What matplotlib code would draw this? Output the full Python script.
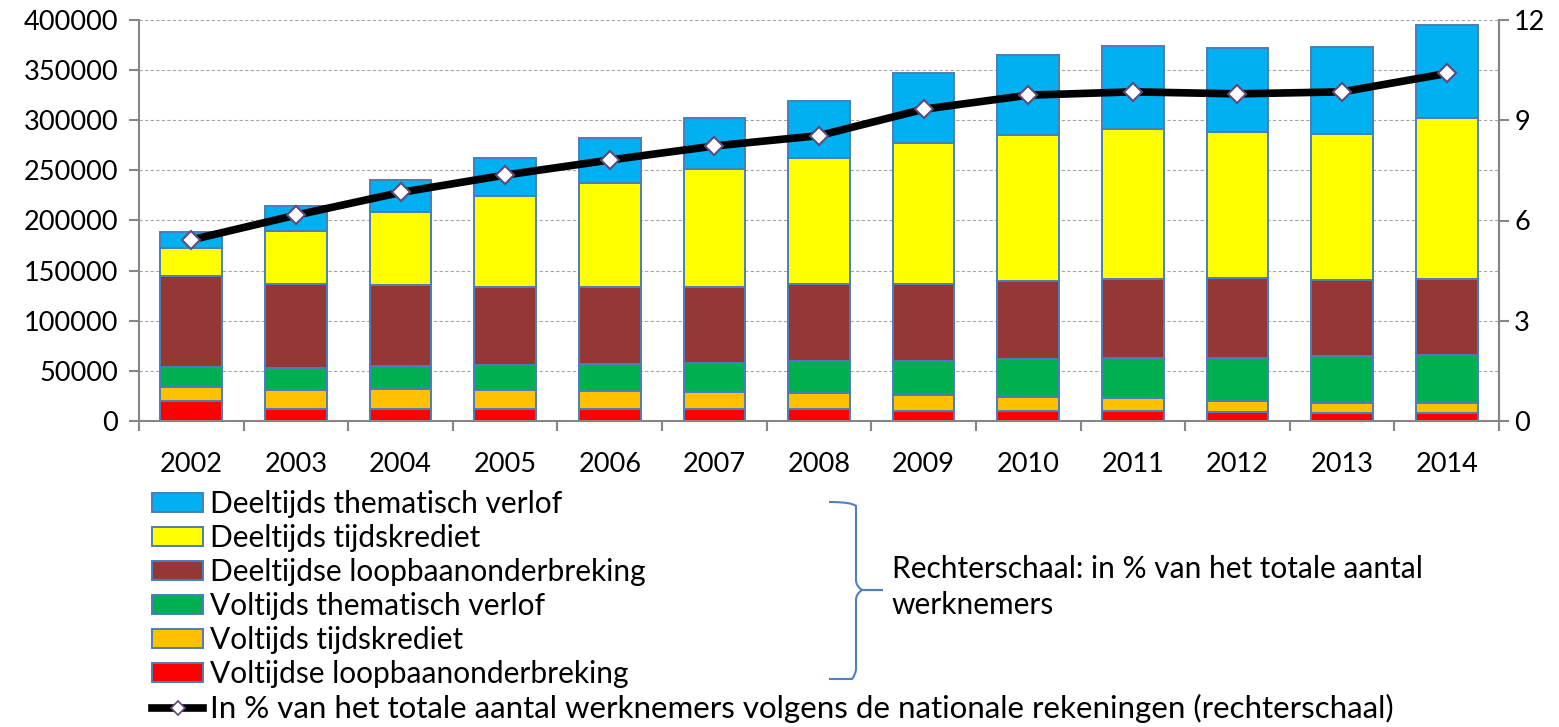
import numpy as np
import matplotlib.pyplot as plt
from matplotlib.patches import Patch, PathPatch
from matplotlib.lines import Line2D
from matplotlib.path import Path

plt.rcParams['font.family'] = ['Lato', 'DejaVu Sans']

years = ["2002", "2003", "2004", "2005", "2006", "2007", "2008",
         "2009", "2010", "2011", "2012", "2013", "2014"]

# aantallen per regeling (stapel van onder naar boven)
voltijdse_loopbaan = [20000, 11500, 11500, 11500, 12000, 12000, 12000, 10000, 10000, 10000, 9000, 8000, 8000]
voltijds_tijdskrediet = [14000, 19500, 20000, 19500, 18000, 17000, 16000, 15500, 14000, 13000, 11000, 10000, 10000]
voltijds_thematisch = [20000, 22000, 23500, 25000, 27000, 29000, 31500, 34500, 37500, 39500, 43000, 47000, 48000]
deeltijdse_loopbaan = [91000, 84000, 80500, 78000, 76500, 76000, 77000, 76500, 78500, 79500, 80000, 76000, 76000]
deeltijds_tijdskrediet = [27500, 53000, 73000, 90000, 103500, 117000, 125500, 140500, 145000, 149000, 145500, 145000, 160500]
deeltijds_thematisch = [16000, 24000, 31500, 38500, 45000, 51000, 57500, 70500, 80500, 83500, 84000, 87500, 92500]

# in % van het totale aantal werknemers (rechterschaal)
pct_werknemers = [5.42, 6.16, 6.84, 7.36, 7.81, 8.23, 8.54, 9.33, 9.75, 9.85, 9.79, 9.85, 10.4]

series = [
    ("Voltijdse loopbaanonderbreking", voltijdse_loopbaan, "#FF0000"),
    ("Voltijds tijdskrediet", voltijds_tijdskrediet, "#FFC000"),
    ("Voltijds thematisch verlof", voltijds_thematisch, "#00B050"),
    ("Deeltijdse loopbaanonderbreking", deeltijdse_loopbaan, "#953735"),
    ("Deeltijds tijdskrediet", deeltijds_tijdskrediet, "#FFFF00"),
    ("Deeltijds thematisch verlof", deeltijds_thematisch, "#00B0F0"),
]
line_label = "In % van het totale aantal werknemers volgens de nationale rekeningen (rechterschaal)"

W, H = 1559, 727
fig = plt.figure(figsize=(W / 100, H / 100), dpi=100)


def fx(px):
    return px / W


def fy(py):
    return 1 - py / H


axis_grey = "#868686"
edge_blue = "#4A7EBB"
text_size = 21.5

ax = fig.add_axes([fx(139), fy(421), fx(1499) - fx(139), fy(20) - fy(421)])
x = np.arange(len(years))
bottom = np.zeros(len(years))
for label, vals, color in series:
    ax.bar(x, vals, width=0.59, bottom=bottom, color=color,
           edgecolor=edge_blue, linewidth=1.4, zorder=2)
    bottom += np.array(vals)

ax.set_xlim(-0.5, len(years) - 0.5)
ax.set_ylim(0, 400000)
ax.set_yticks(range(0, 400001, 50000))
ax.yaxis.grid(True, color="#A6A6A6", linestyle=(0, (3, 2)), linewidth=0.8)
ax.set_axisbelow(True)

ax.set_xticks(x)
ax.set_xticklabels(years)
ax.set_xticks(np.arange(-0.5, len(years)), minor=True)
ax.tick_params(axis="x", which="major", length=0, pad=22, labelsize=19.5)
ax.tick_params(axis="x", which="minor", length=7, width=1.5, color=axis_grey)
ax.tick_params(axis="y", length=7, width=1.5, color=axis_grey, pad=8, labelsize=19.5)

for side in ["left", "bottom", "right"]:
    ax.spines[side].set_color(axis_grey)
    ax.spines[side].set_linewidth(1.5)
ax.spines["top"].set_visible(False)

ax2 = ax.twinx()
ax2.plot(x, pct_werknemers, color="black", linewidth=5.5, marker="D", markersize=9,
         markerfacecolor="white", markeredgecolor="#604A7B", markeredgewidth=1.5, zorder=3)
ax2.set_ylim(0, 12)
ax2.set_yticks([0, 3, 6, 9, 12])
ax2.tick_params(axis="y", length=7, width=1.5, color=axis_grey, pad=4, labelsize=19.5)
for side in ["left", "bottom", "top"]:
    ax2.spines[side].set_visible(False)
ax2.spines["right"].set_color(axis_grey)
ax2.spines["right"].set_linewidth(1.5)

# legende: bovenste stapel eerst, lijn onderaan
handles = [Patch(facecolor=c, edgecolor=edge_blue, linewidth=1.4) for _, _, c in reversed(series)]
labels = [lab for lab, _, _ in reversed(series)]
handles.append(Line2D([], [], color="black", linewidth=5.5, marker="D", markersize=7,
                      markerfacecolor="white", markeredgecolor="#604A7B", markeredgewidth=1.2))
labels.append(line_label)
leg = fig.legend(handles, labels, loc="upper left", bbox_to_anchor=(fx(152), fy(490)),
                 frameon=False, fontsize=text_size, handlelength=1.71, handleheight=0.57,
                 handletextpad=0.23, labelspacing=0.2, borderpad=0, borderaxespad=0)
# de lange lijnlabel loopt iets breder uit
leg.get_texts()[-1].set_fontsize(22.5)

# accolade naar de tekst over de rechterschaal
pts = [(829, 502), (852, 502), (856, 506), (856, 512),
       (856, 580), (856, 586), (862, 590), (883, 590),
       (862, 590), (856, 594), (856, 600),
       (856, 668), (856, 674), (852, 679), (829, 679)]
codes = [Path.MOVETO, Path.CURVE3, Path.CURVE3, Path.LINETO,
         Path.LINETO, Path.CURVE3, Path.CURVE3, Path.LINETO,
         Path.LINETO, Path.CURVE3, Path.CURVE3,
         Path.LINETO, Path.CURVE3, Path.CURVE3, Path.LINETO]
brace = Path([(fx(px), fy(py)) for px, py in pts], codes)
fig.add_artist(PathPatch(brace, facecolor="none", edgecolor="#4F81BD", linewidth=1.5,
                         transform=fig.transFigure))
fig.text(fx(892), fy(587), "Rechterschaal: in % van het totale aantal\nwerknemers",
         fontsize=text_size, ha="left", va="center", linespacing=1.32)

fig.savefig("out.png", dpi=100)
